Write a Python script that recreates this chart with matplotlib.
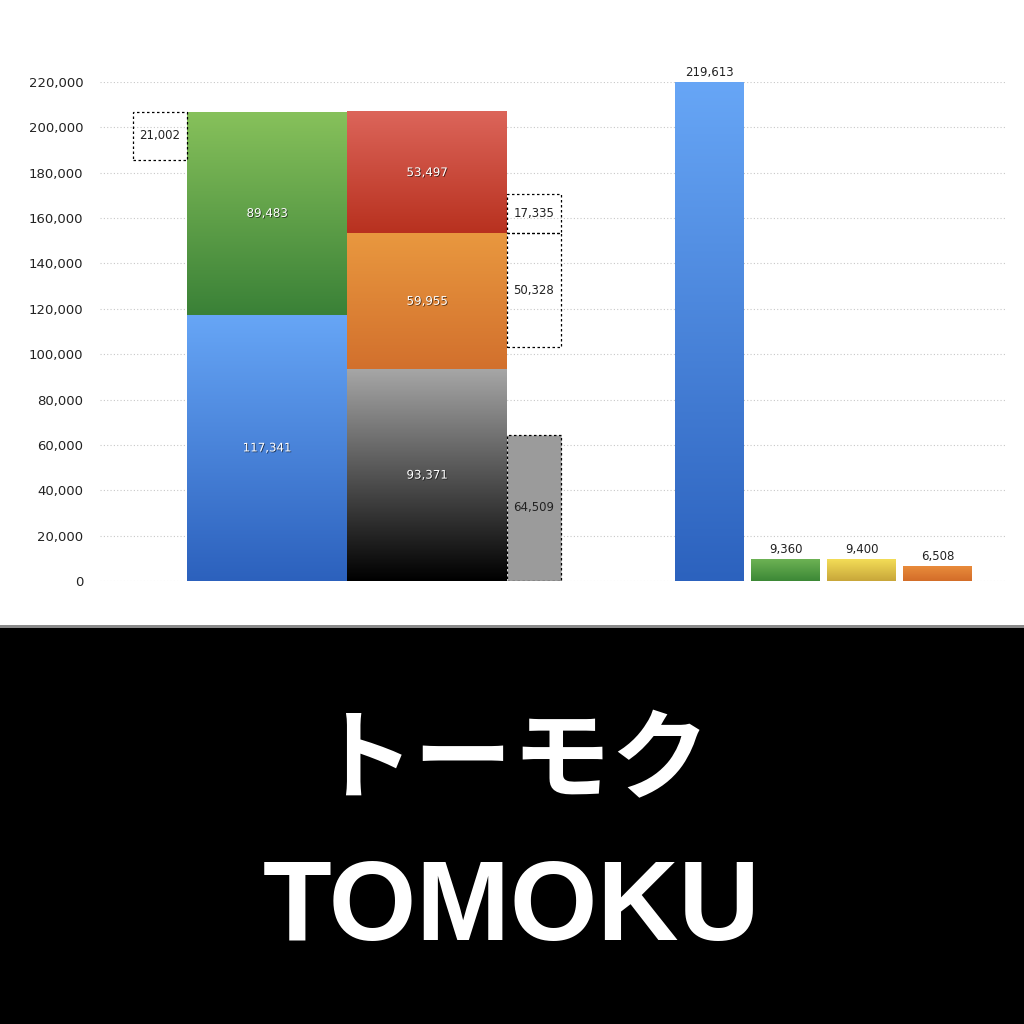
import numpy as np
import matplotlib.pyplot as plt
from matplotlib.colors import LinearSegmentedColormap
from matplotlib.patches import Rectangle
import matplotlib.patheffects as pe

plt.rcParams['font.family'] = ['DejaVu Sans']

# data
left_stack = [117341, 89483]            # blue, green
left_colors = [('#67a6f6', '#2c61bd'), ('#87c15b', '#3a8137')]
right_stack = [93371, 59955, 53497]     # black, orange, red
right_colors = [('#a6a6a6', '#000000'), ('#e9983f', '#d2702d'),
                ('#dc655a', '#b8311f')]
box_left = 21002
box_right = [64509, 50328, 17335]
single_vals = [219613, 9360, 9400, 6508]
single_colors = [('#67a6f6', '#2c62be'), ('#6db254', '#3c8836'),
                 ('#f3dd57', '#c8a63a'), ('#e98b3b', '#d36d29')]
yticks = np.arange(0, 220001, 20000)

# layout (x in axis units == pixels)
left_x0, bar_w = 187, 160
box_w = 54
single_x0 = [675, 751, 827, 903]
single_w = 69

fig = plt.figure(figsize=(10.24, 10.24), dpi=100)
fig.patch.set_facecolor('white')
ax = fig.add_axes([100/1024, 1-581/1024, 905/1024, 499/1024])


def grad_bar(x0, w, y0, h, c_top, c_bot):
    cmap = LinearSegmentedColormap.from_list('g', [c_bot, c_top])
    grad = np.linspace(0, 1, 256)[:, None]
    ax.imshow(grad, extent=[x0, x0 + w, y0, y0 + h], origin='lower',
              aspect='auto', cmap=cmap, zorder=2, interpolation='bicubic')


def inner_label(x, y, v):
    ax.text(x, y, f'{v:,}', ha='center', va='center', color='white',
            fontsize=8.5, zorder=5,
            path_effects=[pe.withSimplePatchShadow(offset=(0.6, -0.6),
                                                   shadow_rgbFace='k',
                                                   alpha=0.6)])


def box(x0, y0, h, v, face='none'):
    ax.add_patch(Rectangle((x0, y0), box_w, h, facecolor=face,
                           edgecolor='black', lw=0.9, ls=(0, (2, 2)),
                           zorder=3))
    ax.text(x0 + box_w/2, y0 + h/2, f'{v:,}', ha='center', va='center',
            fontsize=8.5, color='#222222', zorder=5)


# left stacked bar
bottom = 0
for v, (ct, cb) in zip(left_stack, left_colors):
    grad_bar(left_x0, bar_w, bottom, v, ct, cb)
    inner_label(left_x0 + bar_w/2, bottom + v/2, v)
    bottom += v
left_total = bottom
box(left_x0 - box_w, left_total - box_left, box_left, box_left)

# right stacked bar
x1 = left_x0 + bar_w
bottom = 0
tops = []
for v, (ct, cb) in zip(right_stack, right_colors):
    grad_bar(x1, bar_w, bottom, v, ct, cb)
    inner_label(x1 + bar_w/2, bottom + v/2, v)
    bottom += v
    tops.append(bottom)

bx = x1 + bar_w
box(bx, 0, box_right[0], box_right[0], face='#9b9b9b')
box(bx, tops[1] - box_right[1], box_right[1], box_right[1])
box(bx, tops[1], box_right[2], box_right[2])

# single bars
for x0, v, (ct, cb) in zip(single_x0, single_vals, single_colors):
    grad_bar(x0, single_w, 0, v, ct, cb)
    ax.text(x0 + single_w/2, v + 1500, f'{v:,}', ha='center', va='bottom',
            fontsize=8.5, color='#222222', zorder=5, clip_on=False)

ax.set_xlim(100, 1005)
ax.set_ylim(0, 220000)
ax.set_yticks(yticks)
ax.set_yticklabels([f'{t:,}' for t in yticks], fontsize=9.5, color='#222222')
ax.set_xticks([])
ax.tick_params(axis='y', length=0, pad=12)
for t in yticks:
    ax.axhline(t, color='#c8c8c8', lw=0.8, ls=(0, (1, 2)), zorder=1)
for s in ax.spines.values():
    s.set_visible(False)
ax.patch.set_alpha(0)

# bottom banner
fig.patches.append(Rectangle((0, 0), 1, 396/1024, transform=fig.transFigure,
                             facecolor='black', edgecolor='none', zorder=0))
fig.patches.append(Rectangle((0, 396/1024), 1, 3/1024,
                             transform=fig.transFigure, facecolor='#8a8a8a',
                             edgecolor='none', zorder=0))
fig.text(0.5, 1 - 762/1024, 'トーモク', ha='center', va='center',
         color='white', fontsize=71, fontweight='bold',
         family=['Noto Sans CJK JP', 'DejaVu Sans'])
fig.text(0.5, 1 - 911/1024, 'TOMOKU', ha='center', va='center',
         color='white', fontsize=81, fontweight='bold',
         family=['Liberation Sans', 'DejaVu Sans'])

fig.savefig('out.png', dpi=100)
